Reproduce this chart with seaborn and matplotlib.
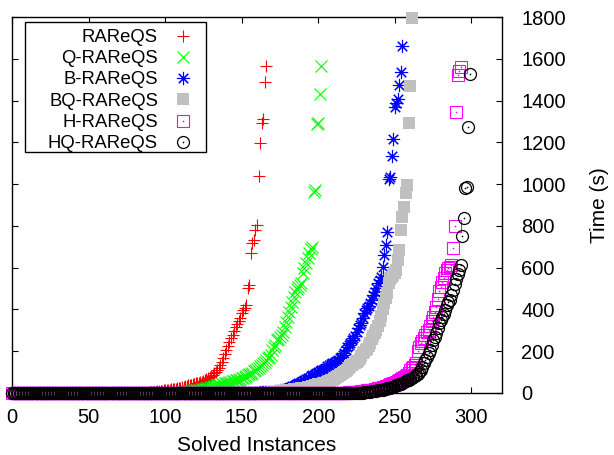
import numpy as np
import pandas as pd
import matplotlib
matplotlib.use("Agg")
import matplotlib.pyplot as plt
from matplotlib.patches import Rectangle
from matplotlib.legend_handler import HandlerTuple
import seaborn as sns

# solve times (s), sorted, one entry per solved instance (cactus plot)
rareqs = ([0.3] * 60 + [1.5] * 30
          + [3, 4, 5, 6, 7, 8, 9, 10, 11, 12, 13, 14, 15, 16, 17, 18, 19, 20, 22, 24]
          + [26, 28, 30, 32, 34, 36, 38, 40, 42, 44, 46, 48, 50, 52, 55, 58, 61]
          + [65, 70, 76, 82, 88, 95, 102, 110]
          + [120, 135, 150, 168, 185, 205, 225]
          + [246, 262, 280, 298, 316, 330, 345, 360, 381, 395, 405, 421]
          + [501, 517, 672, 719, 732, 780, 804, 1040, 1195, 1294, 1310, 1490, 1567])

q_rareqs = ([0.3] * 80 + [1.5] * 30
            + [3, 4, 5, 6, 7, 8, 9, 10, 11, 12]
            + [13, 14, 15, 16, 17, 18, 20, 22, 24, 26, 28, 30, 32, 34, 36, 38, 40, 42]
            + [44, 46, 48, 50, 52, 54, 56, 58, 60, 62, 64, 66, 70]
            + [73, 77, 81, 85, 89, 93, 97, 103, 110]
            + [115, 122, 128, 135, 142, 150, 158, 166, 174, 182]
            + [206, 218, 230, 254, 260, 267, 278, 293, 317, 341, 365, 389, 413, 437,
               461, 485, 500, 509, 517, 525, 573, 597, 621, 645, 669, 690, 700,
               964, 972, 1286, 1291, 1431, 1567])

b_rareqs = ([0.3] * 120 + [1.5] * 40
            + [2, 2, 3, 3, 4, 4, 5, 5, 6, 6, 7, 7, 8, 9, 10]
            + [12, 14, 16, 18, 20, 23, 26, 29, 32, 35, 38, 42, 46, 50, 54, 58, 62, 66, 70, 74]
            + [80, 84, 88, 92, 96, 100, 104, 108, 112, 117, 122, 127, 134]
            + [138, 142, 146, 150, 155, 160, 166, 172, 180, 190, 205, 222]
            + [230, 240, 252, 262, 275, 293, 310, 325, 334, 360, 381]
            + [395, 405, 415, 429, 445, 469, 485, 501, 525, 540]
            + [557, 605, 661, 708, 772]
            + [1023, 1035, 1136, 1216, 1368, 1387, 1406, 1474, 1535, 1663])

bq_rareqs = ([0.3] * 140 + [1.5] * 30
             + [3, 4, 5, 6, 7, 8, 9, 10, 11, 12, 13, 14, 15, 16, 17, 18, 19, 20, 21,
                22, 23, 24, 25, 27, 29, 31, 33]
             + [35, 37, 39, 41, 43, 45, 47, 49, 50]
             + [52, 56, 60, 64, 68, 72, 75]
             + [80, 85, 90, 95, 100, 106, 112, 120, 129]
             + [133, 137, 142, 148, 155, 165, 175, 190]
             + [198, 205, 212, 225, 240, 258, 273]
             + [285, 300, 320, 345, 368]
             + [400, 432, 456, 480, 528]
             + [545, 556, 565, 575, 590]
             + [637, 684, 780, 844, 892, 956, 996, 1294, 1470, 1793])

h_rareqs = ([0.3] * 180 + [1.5] * 40
            + [3, 3, 4, 4, 5, 5, 6, 7, 8, 9, 10, 11, 12, 13, 14, 15, 16, 18, 20, 22,
               24, 26, 28, 30, 32]
            + [35, 38, 41, 44, 47, 50, 54, 58, 62, 66, 70, 75, 80, 86, 95]
            + [110, 118, 126, 134, 142, 200, 222, 237, 250, 262, 280]
            + [290, 302, 320, 345, 365, 390, 413, 450, 490, 509, 530, 549, 573]
            + [590, 600, 605, 615, 693, 800, 1344, 1520, 1540, 1562])

hq_rareqs = ([0.3] * 190 + [1.5] * 40
             + [3, 4, 5, 6, 7, 8, 9, 10, 11, 12, 13, 14, 16, 18, 20, 22, 24, 26, 28,
                30, 33, 36, 39, 42, 45]
             + [48, 52, 56, 60, 64, 68, 72, 76, 80, 86, 92, 100]
             + [110, 126, 142, 158, 174, 190, 206, 230, 254, 270, 285, 310, 334, 350,
                365, 380, 397, 420, 435, 445, 470, 493, 520, 545, 570, 589, 613]
             + [752, 836, 980, 988, 1275, 1525])

names = ["RAReQS", "Q-RAReQS", "B-RAReQS", "BQ-RAReQS", "H-RAReQS", "HQ-RAReQS"]
colors = ["#ff0000", "#00ff00", "#0000ff", "#c0c0c0", "#ff00ff", "#000000"]

sns.set_style("ticks")
plt.rcParams["font.family"] = ["Liberation Sans", "DejaVu Sans"]
plt.rcParams["text.color"] = "black"
plt.rcParams["axes.labelcolor"] = "black"

fig = plt.figure(figsize=(6.14, 4.55), dpi=100)
ax = fig.add_axes([12 / 614, 62 / 455, 490 / 614, 376 / 455])

styles = [
    dict(marker="+", ms=9, mew=0.8, mfc="none"),
    dict(marker="x", ms=8.2, mew=0.8, mfc="none"),
    dict(marker=(8, 2, 0), ms=9.5, mew=0.8, mfc="none"),
    dict(marker="s", ms=8.4, mew=0, mfc=colors[3]),
    dict(marker="s", ms=8.2, mew=0.8, mfc="none"),
    dict(marker="o", ms=8.6, mew=0.9, mfc="none"),
]

series = [rareqs, q_rareqs, b_rareqs, bq_rareqs, h_rareqs, hq_rareqs]
handles = []
for name, col, st, times in zip(names, colors, styles, series):
    df = pd.DataFrame({"solved": np.arange(len(times)), "time": times})
    sns.lineplot(data=df, x="solved", y="time", ax=ax, estimator=None, sort=False,
                 linestyle="", color=col, mec=col, clip_on=False, zorder=3,
                 legend=False, **st)
    h = [ax.lines[-1]]
    if name in ("H-RAReQS", "HQ-RAReQS"):
        # gnuplot draws a dot in the middle of the open square / circle
        sns.lineplot(data=df, x="solved", y="time", ax=ax, estimator=None, sort=False,
                     linestyle="", marker="o", ms=1.2, mew=0, mfc=col, color=col,
                     clip_on=False, zorder=3, legend=False)
        h.append(ax.lines[-1])
    handles.append(tuple(h))

ax.set_xlim(0, 320)
ax.set_ylim(0, 1800)
ax.set_xticks(range(0, 301, 50))
ax.set_yticks(range(0, 1801, 200))
ax.yaxis.tick_right()
ax.yaxis.set_label_position("right")
ax.tick_params(direction="in", length=4, width=0.8, top=True, left=True, right=True,
               labelleft=False, labelsize=14.5, colors="black")
ax.tick_params(axis="y", pad=14)
ax.tick_params(axis="x", pad=11)
for sp in ax.spines.values():
    sp.set_visible(True)
    sp.set_linewidth(1)
    sp.set_color("black")

ax.set_xlabel("Solved Instances", fontsize=15, labelpad=6)
ax.set_ylabel("Time (s)", fontsize=15, labelpad=17)

# legend box (gnuplot style, wider on the left)
ax.add_patch(Rectangle((25 / 614, 1 - 152 / 455), 181 / 614, 130 / 455,
                       transform=fig.transFigure, facecolor="white", edgecolor="black",
                       linewidth=1, clip_on=False, zorder=4.5))
leg = ax.legend(handles=handles, labels=names, loc="upper right",
                bbox_to_anchor=(194 / 614, 1 - 29 / 455), bbox_transform=fig.transFigure,
                borderaxespad=0, borderpad=0, markerfirst=False, fontsize=13.3,
                labelspacing=0.23, handlelength=1.2, handletextpad=0.75, frameon=False,
                handler_map={tuple: HandlerTuple(ndivide=1, pad=0)})
leg.set_zorder(5)

plt.savefig("out.png", dpi=100)
plt.close()
